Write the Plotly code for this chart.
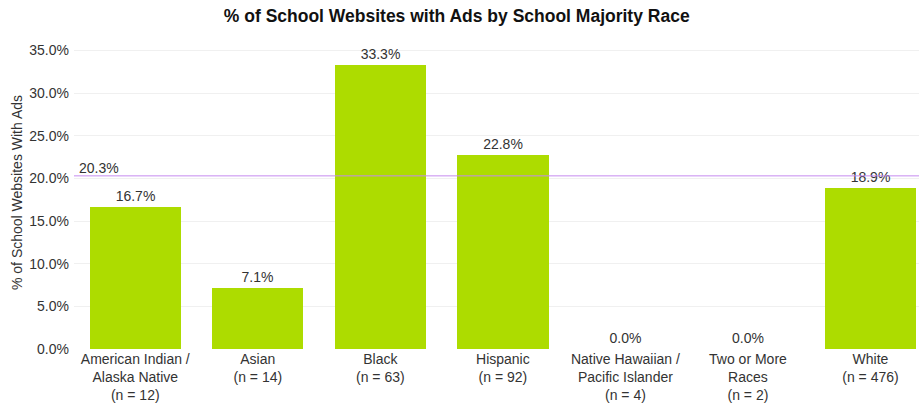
import plotly.graph_objects as go

categories = ["American Indian /<br>Alaska Native<br>(n = 12)", "Asian<br>(n = 14)", "Black<br>(n = 63)",
              "Hispanic<br>(n = 92)", "Native Hawaiian /<br>Pacific Islander<br>(n = 4)",
              "Two or More<br>Races<br>(n = 2)", "White<br>(n = 476)"]
values = [16.7, 7.1, 33.3, 22.8, 0.0, 0.0, 18.9]
average = 20.3
ytick_vals = [0, 5, 10, 15, 20, 25, 30, 35]
ytick_text = [f"{v:.1f}%" for v in ytick_vals]

x = list(range(len(categories)))
fig = go.Figure()
fig.add_trace(go.Bar(
    x=x, y=values, width=0.745, marker=dict(color="#addc00", line=dict(width=0)),
    text=[f"{v:.1f}%" for v in values], textposition="outside", cliponaxis=False,
    textfont=dict(size=14, color="#333333"),
))
fig.add_shape(type="line", xref="paper", x0=0, x1=1, yref="y", y0=average, y1=average,
              line=dict(color="#c58af0", width=1))
fig.add_annotation(xref="paper", x=0.003, yref="y", y=average, text=f"{average:.1f}%",
                   showarrow=False, xanchor="left", yanchor="bottom", yshift=-2,
                   font=dict(size=14, color="#333333"))
fig.update_layout(
    width=919, height=403,
    margin=dict(l=74, r=0, t=36, b=54),
    paper_bgcolor="white", plot_bgcolor="white",
    font=dict(family="Liberation Sans, Arial, sans-serif", color="#333333", size=14),
    title=dict(text="<b>% of School Websites with Ads by School Majority Race</b>",
               x=0.497, xanchor="center", y=0.96, yanchor="middle",
               font=dict(size=17.5, color="#111111")),
    showlegend=False, bargap=0,
    xaxis=dict(tickmode="array", tickvals=x, ticktext=categories, range=[-0.5, 6.396],
               showgrid=False, zeroline=False, ticks="", tickfont=dict(size=14, color="#333333")),
    yaxis=dict(range=[0, 36.7], tickmode="array", tickvals=ytick_vals, ticktext=ytick_text,
               showgrid=True, gridcolor="#f0f0f0", gridwidth=1, zeroline=False,
               ticks="", ticklabelstandoff=4, tickfont=dict(size=14, color="#333333"),
               title=dict(text="% of School Websites With Ads", font=dict(size=14, color="#333333"),
                          standoff=3)),
)
fig.write_html("out.html")
